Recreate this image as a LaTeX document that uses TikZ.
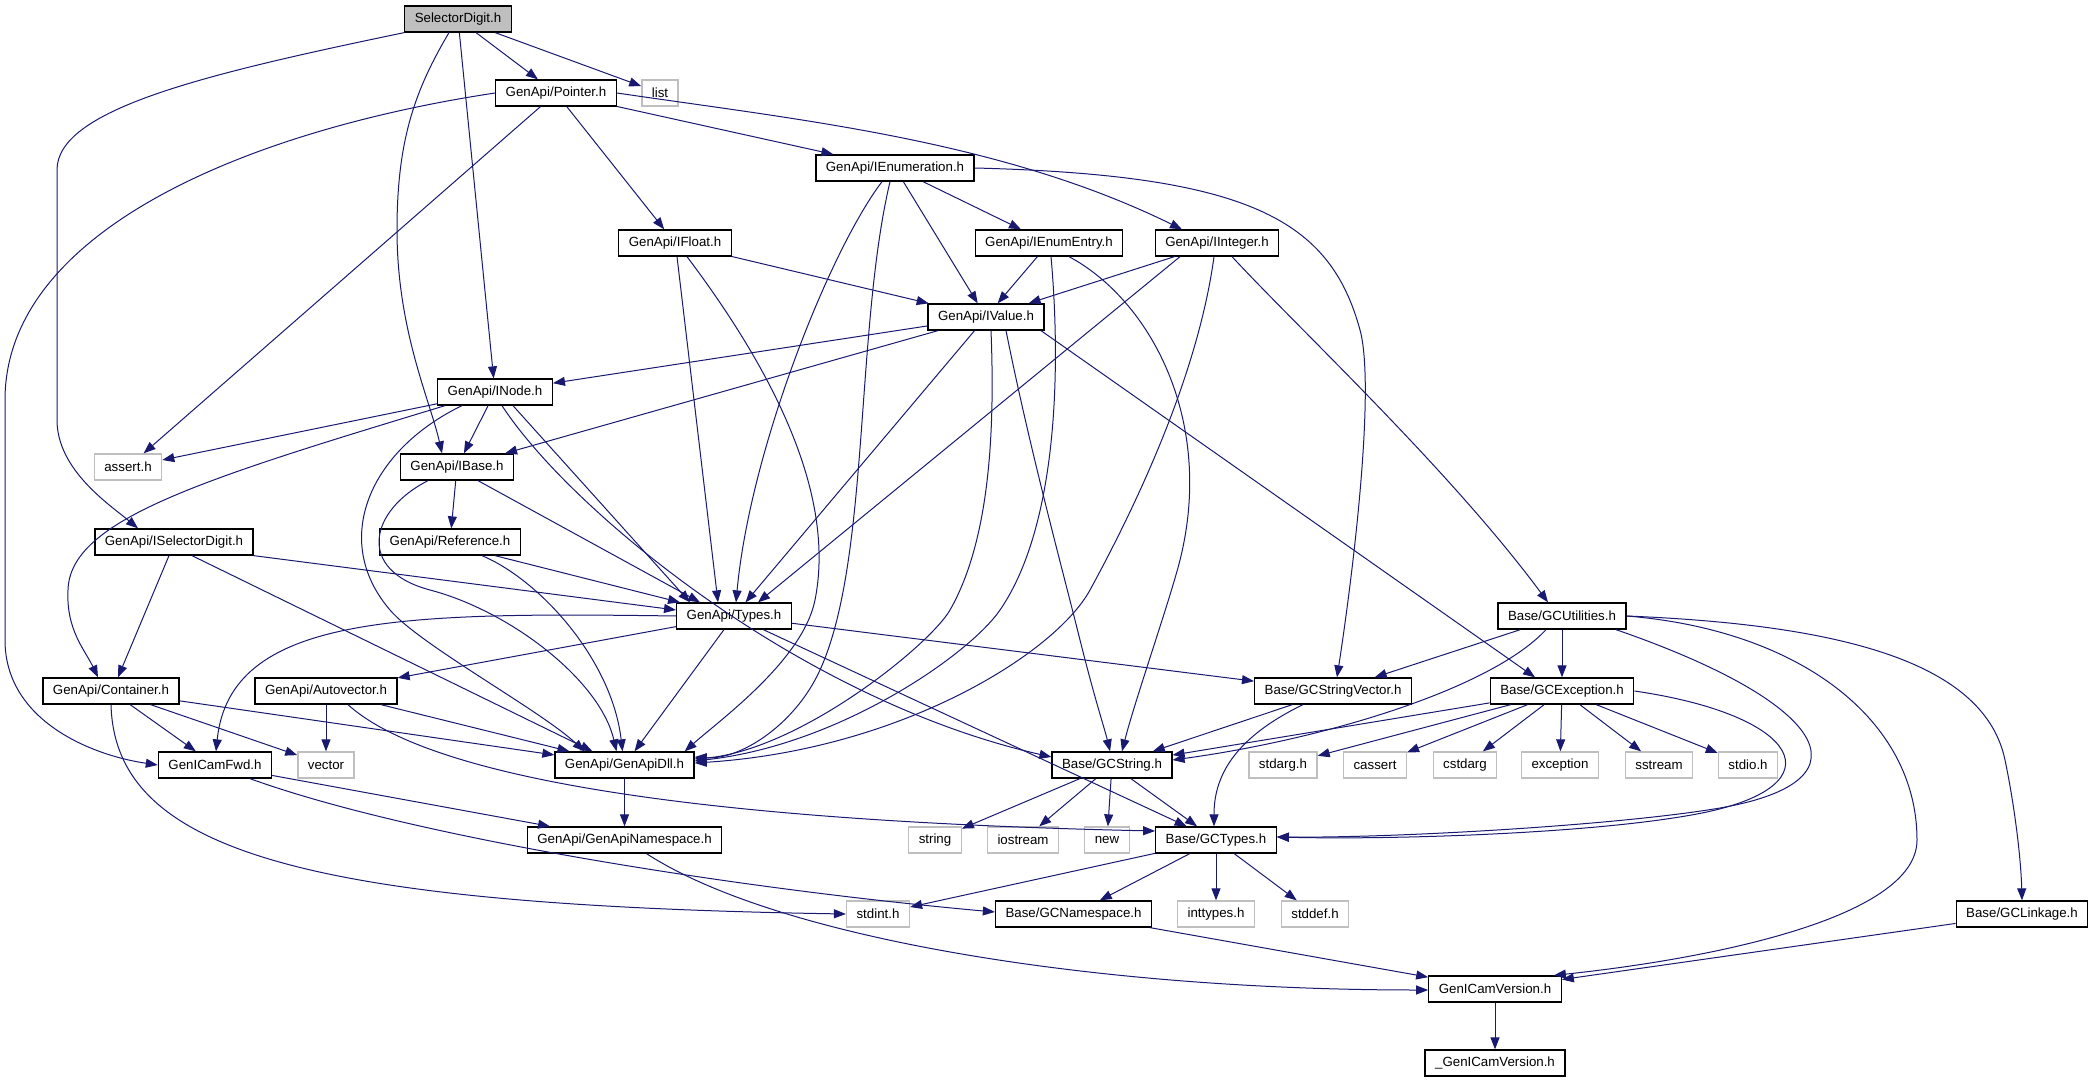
\documentclass[tikz,border=0pt]{standalone}
\usepackage{fontspec}
\setmainfont{Liberation Sans}
\usetikzlibrary{arrows.meta}
\definecolor{edgeblue}{HTML}{191970}
\definecolor{sysgray}{HTML}{BFBFBF}

\begin{document}
\begin{tikzpicture}[x=1pt,y=-1pt,
    box/.style={draw=black,line width=1.3pt,fill=white,minimum height=26pt,
      inner xsep=10pt,inner ysep=0pt,font=\fontsize{13.3}{15}\selectfont},
    rootbox/.style={box,fill=sysgray},
    sysbox/.style={box,draw=sysgray},
    inc/.style={draw=edgeblue,line width=1pt,-{Triangle[length=12pt,width=9pt]}}]
  \useasboundingbox (0,0) rectangle (2093,1083);

  % headers
  \node[rootbox] (sd) at (458,19) {SelectorDigit.h};
  \node[box] (ptr) at (556,93) {GenApi/Pointer.h};
  \node[sysbox] (list) at (660,93) {list};
  \node[box] (ienum) at (895,168) {GenApi/IEnumeration.h};
  \node[box] (ifloat) at (675,243) {GenApi/IFloat.h};
  \node[box] (ientry) at (1049,243) {GenApi/IEnumEntry.h};
  \node[box] (iint) at (1217,243) {GenApi/IInteger.h};
  \node[box] (ival) at (986,317) {GenApi/IValue.h};
  \node[box] (inode) at (495,392) {GenApi/INode.h};
  \node[sysbox] (assert) at (128,467) {assert.h};
  \node[box] (ibase) at (457,467) {GenApi/IBase.h};
  \node[box] (isd) at (174,542) {GenApi/ISelectorDigit.h};
  \node[box] (ref) at (450,542) {GenApi/Reference.h};
  \node[box] (types) at (734,616) {GenApi/Types.h};
  \node[box] (gcutil) at (1562,616) {Base/GCUtilities.h};
  \node[box] (cont) at (111,691) {GenApi/Container.h};
  \node[box] (autov) at (326,691) {GenApi/Autovector.h};
  \node[box] (gcsv) at (1333,691) {Base/GCStringVector.h};
  \node[box] (gcexc) at (1562,691) {Base/GCException.h};
  \node[box] (fwd) at (215,765) {GenICamFwd.h};
  \node[sysbox] (vector) at (326,765) {vector};
  \node[box] (dll) at (624.5,765) {GenApi/GenApiDll.h};
  \node[box] (gcstr) at (1112,765) {Base/GCString.h};
  \node[sysbox] (stdarg) at (1283,765) {stdarg.h};
  \node[sysbox] (cassert) at (1375,765) {cassert};
  \node[sysbox] (cstdarg) at (1465,765) {cstdarg};
  \node[sysbox] (exception) at (1560,765) {exception};
  \node[sysbox] (sstream) at (1659,765) {sstream};
  \node[sysbox] (stdio) at (1748,765) {stdio.h};
  \node[box] (gans) at (624.5,840) {GenApi/GenApiNamespace.h};
  \node[sysbox] (string) at (935,840) {string};
  \node[sysbox] (iostream) at (1023,840) {iostream};
  \node[sysbox] (new) at (1107,840) {new};
  \node[box] (gctypes) at (1216,840) {Base/GCTypes.h};
  \node[sysbox] (stdint) at (878,914) {stdint.h};
  \node[box] (gcns) at (1073.5,914) {Base/GCNamespace.h};
  \node[sysbox] (inttypes) at (1216,914) {inttypes.h};
  \node[sysbox] (stddef) at (1315,914) {stddef.h};
  \node[box] (gclink) at (2022,914) {Base/GCLinkage.h};
  \node[box] (ver) at (1495,989) {GenICamVersion.h};
  \node[box] (uver) at (1495,1063) {\_GenICamVersion.h};

  % SelectorDigit.h
  \draw[inc] (sd) -- (ptr);
  \draw[inc] (sd) -- (list);
  \draw[inc] (sd) -- (inode);
  \draw[inc] (sd.south west) .. controls (200,75) and (57,110) .. (57,170) -- (57,420) .. controls (57,470) and (110,505) .. ([xshift=-36]isd.north);
  \draw[inc] ([xshift=-9]sd.south) .. controls (415,90) and (397,140) .. (397,230) .. controls (397,330) and (430,400) .. ([xshift=-15]ibase.north);

  % Pointer.h
  \draw[inc] (ptr.west) .. controls (250,130) and (5,230) .. (5,400) -- (5,640) .. controls (5,720) and (90,755) .. (fwd.west);
  \draw[inc] (ptr) -- (assert);
  \draw[inc] (ptr) -- (ifloat);
  \draw[inc] (ptr) -- (ienum);
  \draw[inc] (ptr.east) .. controls (800,120) and (1000,140) .. ([xshift=-35]iint.north);

  % IEnumeration.h
  \draw[inc] ([xshift=-13]ienum.south) .. controls (830,250) and (750,450) .. ([xshift=2]types.north);
  \draw[inc] ([xshift=-5]ienum.south) .. controls (855,330) and (870,560) .. (820,670) .. controls (795,725) and (740,760) .. ([yshift=8]dll.east);
  \draw[inc] (ienum) -- (ival);
  \draw[inc] (ienum) -- (ientry);
  \draw[inc] (ienum.east) .. controls (1250,175) and (1330,220) .. (1360,330) .. controls (1375,385) and (1355,560) .. ([xshift=4]gcsv.north);

  % IFloat.h
  \draw[inc] (ifloat) -- (ival);
  \draw[inc] ([xshift=2]ifloat.south) -- ([xshift=-16]types.north);
  \draw[inc] ([xshift=12]ifloat.south) .. controls (780,380) and (835,500) .. (815,600) .. controls (803,660) and (720,720) .. ([xshift=-10]dll.north east);

  % IEnumEntry.h
  \draw[inc] (ientry) -- (ival);
  \draw[inc] ([xshift=2]ientry.south) .. controls (1062,380) and (1055,530) .. (1000,610) .. controls (970,654) and (840,745) .. ([yshift=4]dll.east);
  \draw[inc] ([xshift=20]ientry.south) .. controls (1150,300) and (1215,420) .. (1180,560) .. controls (1170,600) and (1135,700) .. ([xshift=10]gcstr.north);

  % IInteger.h
  \draw[inc] (iint) -- (ival);
  \draw[inc] ([xshift=-37]iint.south) -- ([xshift=24]types.north);
  \draw[inc] ([xshift=-3]iint.south) .. controls (1200,360) and (1150,480) .. (1090,590) .. controls (1055,654) and (900,750) .. ([yshift=2]dll.east);
  \draw[inc] ([xshift=15]iint.south) .. controls (1300,330) and (1450,470) .. ([xshift=-14]gcutil.north);

  % IValue.h
  \draw[inc] (ival) -- (inode);
  \draw[inc] (ival) -- (ibase);
  \draw[inc] (ival) -- (types);
  \draw[inc] ([xshift=5]ival.south) .. controls (995,430) and (990,540) .. (950,610) .. controls (930,645) and (800,750) .. ([yshift=6]dll.east);
  \draw[inc] ([xshift=20]ival.south) .. controls (1030,450) and (1060,560) .. (1080,640) .. controls (1095,700) and (1105,730) .. ([xshift=-2]gcstr.north);
  \draw[inc] ([xshift=55]ival.south) -- ([xshift=-27]gcexc.north);

  % INode.h
  \draw[inc] (inode) -- (assert);
  \draw[inc] (inode) -- (ibase);
  \draw[inc] ([xshift=8]inode.south west) .. controls (200,480) and (70,520) .. (68,590) .. controls (66,630) and (85,650) .. ([xshift=-13]cont.north);
  \draw[inc] ([xshift=-33]inode.south) .. controls (370,450) and (330,540) .. (390,610) .. controls (420,645) and (540,710) .. ([xshift=-40]dll.north);
  \draw[inc] ([xshift=18]inode.south) -- ([xshift=-44]types.north);
  \draw[inc] ([xshift=7]inode.south) .. controls (570,510) and (800,700) .. ([yshift=8]gcstr.west);

  % IBase.h
  \draw[inc] (ibase) -- (ref);
  \draw[inc] ([xshift=21]ibase.south) -- ([xshift=-34]types.north);
  \draw[inc] ([xshift=-29]ibase.south) .. controls (370,510) and (355,570) .. (430,590) .. controls (510,611) and (600,680) .. ([xshift=-8]dll.north);

  % ISelectorDigit.h
  \draw[inc] ([xshift=-5]isd.south) -- ([xshift=7]cont.north);
  \draw[inc] ([xshift=18]isd.south) -- ([xshift=-32]dll.north);
  \draw[inc] (isd.south east) -- ([yshift=6]types.west);

  % Reference.h
  \draw[inc] ([xshift=45]ref.south) -- ([xshift=4]types.north west);
  \draw[inc] ([xshift=32]ref.south) .. controls (540,580) and (612,660) .. ([xshift=-2]dll.north);

  % Types.h
  \draw[inc] (types.west) .. controls (400,612) and (230,615) .. ([xshift=1]fwd.north);
  \draw[inc] (types) -- (autov);
  \draw[inc] (types) -- (dll);
  \draw[inc] (types) -- (gctypes);
  \draw[inc] (types) -- (gcsv);

  % Container.h
  \draw[inc] (cont) -- (fwd);
  \draw[inc] (cont) -- (vector);
  \draw[inc] (cont) -- (dll);
  \draw[inc] (cont.south) .. controls (115,850) and (300,905) .. (stdint.west);

  % Autovector.h
  \draw[inc] (autov) -- (vector);
  \draw[inc] (autov) -- (dll);
  \draw[inc] ([xshift=22]autov.south) .. controls (420,770) and (650,820) .. ([yshift=9]gctypes.west);

  % GenICamFwd.h, GenApiDll.h, GenApiNamespace.h
  \draw[inc] (fwd) -- (gans);
  \draw[inc] ([xshift=35]fwd.south) .. controls (420,840) and (750,890) .. ([yshift=2]gcns.west);
  \draw[inc] (dll) -- (gans);
  \draw[inc] ([xshift=22]gans.south) .. controls (780,940) and (1100,990) .. ([yshift=-1]ver.west);

  % GCStringVector.h
  \draw[inc] (gcsv) -- (gcstr);
  \draw[inc] ([xshift=-30]gcsv.south) .. controls (1230,740) and (1214,780) .. ([xshift=-2]gctypes.north);

  % GCUtilities.h
  \draw[inc] (gcutil) -- (gcsv);
  \draw[inc] (gcutil) -- (gcexc);
  \draw[inc] ([xshift=-16]gcutil.south) .. controls (1490,690) and (1320,740) .. ([yshift=5]gcstr.east);
  \draw[inc] ([xshift=54]gcutil.south) .. controls (1820,700) and (1880,780) .. (1720,808) .. controls (1620,825) and (1400,838) .. ([yshift=3]gctypes.east);
  \draw[inc] (gcutil.east) .. controls (1800,630) and (1917,720) .. (1917,840) .. controls (1917,920) and (1700,960) .. ([xshift=-8]ver.north east);
  \draw[inc] (gcutil.east) .. controls (1850,625) and (1985,665) .. (2005,760) .. controls (2015,808) and (2021,860) .. (gclink.north);

  % GCException.h
  \draw[inc] (gcexc) -- (gcstr);
  \foreach \s in {stdarg,cassert,cstdarg,exception,sstream,stdio}
    \draw[inc] (gcexc) -- (\s);
  \draw[inc] (gcexc.east) .. controls (1800,715) and (1840,785) .. (1702,813) .. controls (1602,833) and (1400,840) .. ([yshift=3]gctypes.east);

  % GCString.h, GCTypes.h
  \foreach \s in {string,iostream,new,gctypes}
    \draw[inc] (gcstr) -- (\s);
  \foreach \s in {stdint,gcns,inttypes,stddef}
    \draw[inc] (gctypes) -- (\s);

  % GenICamVersion.h
  \draw[inc] (gcns) -- (ver);
  \draw[inc] (gclink) -- (ver);
  \draw[inc] (ver) -- (uver);
\end{tikzpicture}
\end{document}
